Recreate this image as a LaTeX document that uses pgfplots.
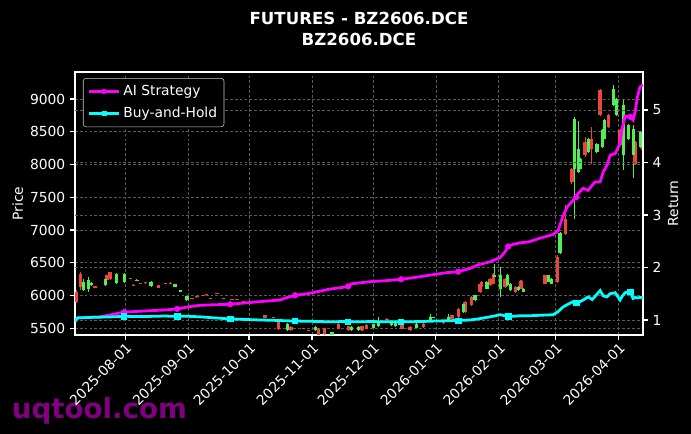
\documentclass[border=0pt]{standalone}
\usepackage{fontspec}
\setmainfont{DejaVu Sans}
\usepackage{pgfplots}
\pgfplotsset{compat=1.18}
\usepackage{pgfplotstable}

\definecolor{upc}{RGB}{80,240,80}
\definecolor{dnc}{RGB}{235,70,60}
\definecolor{aic}{RGB}{255,0,255}
\definecolor{bhc}{RGB}{0,255,255}
\definecolor{gridc}{RGB}{90,90,90}
\definecolor{wmc}{RGB}{128,0,128}
\definecolor{legc}{RGB}{200,200,200}

% day = days since 2025-07-01
\pgfplotstableread{
d o c h l
7.2 6055 5902 6090 5880
8.9 6336 6131 6360 6080
16.2 6140 6122 6148 6115
22.0 6310 6234 6320 6225
23.6 6352 6250 6365 6240
33.5 6268 6252 6272 6248
35.1 6165 6150 6170 6145
38.4 6190 6176 6195 6172
40.9 6200 6186 6205 6182
47.4 6157 6122 6165 6115
50.7 6190 6176 6195 6172
53.2 6195 6181 6200 6176
63.9 5962 5947 5966 5943
66.3 5987 5972 5991 5968
69.6 6012 5998 6016 5994
71.2 6022 6008 6026 6004
72.9 5962 5947 5966 5943
76.2 6038 6024 6042 6020
79.4 5962 5947 5966 5943
83.6 5947 5932 5951 5928
86.0 5947 5932 5951 5928
89.3 5910 5895 5914 5891
99.9 5699 5664 5710 5655
104.0 5671 5657 5675 5653
106.5 5596 5495 5610 5480
112.6 5520 5469 5530 5460
118.8 5503 5488 5507 5484
121.3 5477 5462 5481 5458
126.2 5495 5400 5505 5380
129.0 5500 5408 5510 5395
136.0 5572 5495 5585 5485
141.0 5531 5469 5540 5460
147.6 5531 5469 5540 5460
150.0 5546 5495 5560 5485
159.9 5648 5596 5660 5585
167.3 5546 5495 5555 5485
171.3 5520 5469 5530 5455
177.9 5572 5520 5580 5510
187.7 5622 5576 5630 5565
191.9 5699 5648 5710 5640
195.1 5801 5673 5815 5660
198.4 5902 5749 5915 5740
201.7 5979 5852 5990 5840
205.8 6183 6055 6195 6045
206.6 6208 6131 6220 6120
210.7 6260 6157 6270 6145
212.4 6336 6183 6350 6170
218.1 6260 6131 6275 6120
223.1 6131 6055 6140 6045
225.9 6223 6107 6235 6095
237.8 6310 6183 6320 6170
244.0 6590 6210 6620 6190
248.0 7171 6942 7380 6930
251.0 7936 7732 7950 7700
257.5 8344 8140 8420 8120
260.8 8395 8242 8573 8012
264.9 9134 8752 9150 8740
269.0 8752 8573 8770 8560
274.7 8523 8294 8540 8280
282.1 8344 8012 8360 7990
286.0 8375 8222 8390 8210
}\dncandles

\pgfplotstableread{
d o c h l
10.5 6080 6200 6260 6070
12.9 6107 6245 6290 6060
14.3 6165 6195 6210 6150
21.2 6157 6260 6275 6140
26.9 6193 6336 6350 6180
30.7 6203 6336 6350 6195
36.8 6225 6245 6250 6220
43.8 6142 6208 6215 6135
55.6 6131 6173 6180 6125
58.1 6060 6085 6090 6055
61.4 5928 5994 6000 5920
111.0 5469 5572 5580 5460
124.6 5469 5520 5528 5460
132.8 5393 5443 5450 5380
142.6 5469 5520 5528 5460
145.9 5469 5520 5528 5460
153.3 5511 5561 5570 5500
155.7 5531 5592 5673 5520
162.3 5546 5596 5605 5540
164.0 5531 5592 5600 5525
174.6 5511 5572 5580 5505
181.2 5633 5673 5725 5625
182.8 5655 5675 5680 5650
190.2 5622 5673 5720 5615
197.6 5749 5878 5890 5740
203.3 5928 6005 6015 5920
209.1 6107 6208 6220 6100
213.0 6280 6310 6489 6270
215.7 6107 6310 6437 5979
219.3 6157 6310 6330 6150
220.6 6081 6183 6190 6075
224.7 6081 6131 6140 6075
227.1 6055 6107 6115 6048
239.4 6208 6310 6320 6200
241.1 6183 6260 6270 6175
245.2 6650 6950 6970 6640
252.2 7936 8700 8728 7171
254.2 7885 8242 8670 7870
255.0 7936 8089 8100 7925
259.1 8191 8395 8410 8180
263.3 8191 8318 8330 8180
266.0 8268 8523 8540 8255
267.0 8395 8680 8695 8385
271.5 8905 9158 9209 8890
273.1 8752 9005 9020 8740
276.4 8140 8905 8980 7910
278.8 8395 8599 8615 8380
281.3 8140 8547 8599 7800
284.6 8268 8497 8510 8255
}\upcandles

\pgfplotstableread{
d r
6.3 1.00
8 1.04
18.7 1.06
24 1.10
30.5 1.15
40 1.17
50 1.19
56.6 1.21
62 1.25
67.9 1.28
75 1.29
82.7 1.30
97.5 1.35
107.3 1.38
110 1.42
114.7 1.47
122.1 1.51
127.0 1.55
132 1.59
138 1.62
140.8 1.64
142.5 1.69
151.6 1.73
160 1.75
166.9 1.775
176.3 1.825
183.7 1.87
189 1.90
195.0 1.92
200.9 1.985
204.8 2.05
210.7 2.11
215.7 2.19
218.1 2.30
219.6 2.40
222 2.44
225.5 2.47
230 2.49
235.4 2.56
241.8 2.63
244.2 2.70
246.7 2.99
248.6 3.15
251.6 3.28
253.1 3.34
254.1 3.41
256.5 3.51
259.0 3.47
261.0 3.57
262.4 3.63
264.9 3.63
266.4 3.82
268.3 3.95
269.8 4.14
272.3 4.17
274.7 4.36
275.7 4.64
277.2 4.88
279.7 4.87
281.1 4.81
282.1 4.96
283.1 5.22
284.5 5.44
286 5.48
}\aidata

\pgfplotstableread{
d r
6.3 0.97
7.5 1.04
15 1.05
25 1.06
30.5 1.07
40 1.065
50 1.075
56.6 1.07
62 1.07
67.9 1.06
75 1.04
82.7 1.02
97.5 1.00
107.3 0.99
110 0.985
114.7 0.98
122 0.975
127 0.97
132 0.965
138 0.97
140.8 0.97
145 0.965
151.6 0.97
160 0.965
166.9 0.965
176.3 0.97
183.7 0.98
189 0.985
195.0 0.99
200.9 1.00
204.8 1.02
210.7 1.06
215.7 1.10
218.1 1.08
219.6 1.07
222 1.07
225.5 1.08
230 1.08
235.4 1.09
241.8 1.10
244.2 1.16
246.7 1.25
248.6 1.29
251.6 1.35
253.1 1.33
254.1 1.33
256.5 1.38
259.0 1.44
261.0 1.39
262.4 1.45
264.9 1.56
266.4 1.46
268.3 1.44
269.8 1.50
272.3 1.52
274.7 1.38
275.7 1.45
277.2 1.52
279.7 1.54
281.1 1.41
282.1 1.43
283.1 1.42
284.5 1.43
286 1.43
}\bhdata

\pgfplotsset{
  common/.style={
    at={(0.75in,0.99in)}, anchor=south west,
    width=5.68in, height=2.63in, scale only axis,
    xmin=6.3, xmax=286,
    tick align=outside, major tick length=3.5pt,
    tick style={white, line width=0.8pt},
    axis line style={white, line width=0.8pt},
    every tick label/.append style={font=\fontsize{10}{12}\selectfont, text=white},
    /pgf/number format/assume math mode=true,
    /pgf/number format/1000 sep={},
    grid style={gridc, dash pattern=on 2pt off 1.5pt, line width=0.5pt},
  },
}

\begin{document}
\begin{tikzpicture}
\fill[black] (0,0) rectangle (6.91in,4.34in);
\useasboundingbox (0,0) rectangle (6.91in,4.34in);

\node[anchor=base west, text=wmc, font=\fontsize{20}{24}\selectfont\bfseries] at (0.07in,0.15in) {uqtool.com};

\begin{axis}[common,
  ymin=5398, ymax=9412,
  xtick pos=left, ytick pos=left,
  xtick={31,62,92,123,153,184,215,243,274},
  xticklabels={2025-08-01,2025-09-01,2025-10-01,2025-11-01,2025-12-01,2026-01-01,2026-02-01,2026-03-01,2026-04-01},
  xticklabel style={rotate=45, anchor=north east, inner sep=1pt},
  ytick={5500,6000,...,9000},
  grid=major,
  ylabel={Price},
  every axis y label/.style={at={(axis description cs:-0.101,0.5)}, rotate=90, anchor=center, text=white, font=\fontsize{10}{12}\selectfont},
]
% wicks: from low, length high-low
\addplot[dnc, line width=0.8pt, mark=none, forget plot, quiver={u=0, v={\thisrow{h}-\thisrow{l}}}] table[x=d, y=l] {\dncandles};
\addplot[upc, line width=0.8pt, mark=none, forget plot, quiver={u=0, v={\thisrow{h}-\thisrow{l}}}] table[x=d, y=l] {\upcandles};
% bodies: from close (down) / open (up)
\addplot[dnc, line width=2.4pt, mark=none, forget plot, quiver={u=0, v={max(\thisrow{o}-\thisrow{c},16)}}] table[x=d, y=c] {\dncandles};
\addplot[upc, line width=2.4pt, mark=none, forget plot, quiver={u=0, v={max(\thisrow{c}-\thisrow{o},16)}}] table[x=d, y=o] {\upcandles};
\end{axis}

\begin{axis}[common,
  ymin=0.714, ymax=5.724,
  axis x line=none, axis y line*=right,
  ytick={1,2,3,4,5},
  ymajorgrids=true,
  ylabel={Return},
  every axis y label/.style={at={(axis description cs:1.053,0.5)}, rotate=90, anchor=center, text=white, font=\fontsize{10}{12}\selectfont},
  legend style={at={(0.014,0.977)}, anchor=north west, fill=black, draw=legc, rounded corners=2pt, text=white, font=\fontsize{10}{12}\selectfont, inner xsep=3pt, inner ysep=3pt, row sep=3pt},
  legend cell align=left,
  legend image code/.code={\draw[mark repeat=2, mark phase=2, #1] plot coordinates {(0pt,0pt) (11pt,0pt) (22pt,0pt)};},
]
\addplot[aic, line width=2pt, mark=*, mark size=2pt, mark options={solid, fill=aic, line width=0.4pt}, mark indices={5,8,12,16,21,25,29,35,45,59}, forget plot] table[x=d, y=r] {\aidata};
\addplot[bhc, line width=2pt, mark=square*, mark size=1.9pt, mark options={solid, fill=bhc, line width=0.4pt}, mark indices={5,8,12,16,21,25,29,35,45,59}, forget plot] table[x=d, y=r] {\bhdata};
\addlegendimage{aic, line width=2pt, mark=*, mark size=1.6pt, mark options={solid, fill=aic, line width=0.4pt}}
\addlegendentry{AI Strategy}
\addlegendimage{bhc, line width=2pt, mark=square*, mark size=1.5pt, mark options={solid, fill=bhc, line width=0.4pt}}
\addlegendentry{Buy-and-Hold}
\end{axis}

\node[anchor=base, text=white, font=\fontsize{12}{14}\selectfont\bfseries] at (3.59in,4.09in) {FUTURES - BZ2606.DCE};
\node[anchor=base, text=white, font=\fontsize{12}{14}\selectfont\bfseries] at (3.59in,3.88in) {BZ2606.DCE};
\end{tikzpicture}
\end{document}
